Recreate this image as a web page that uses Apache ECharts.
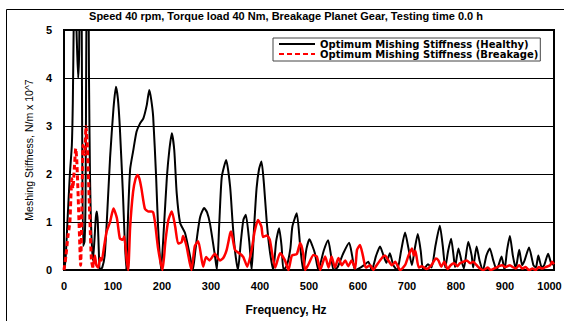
<!DOCTYPE html>
<html><head><meta charset="utf-8">
<script src="https://cdn.jsdelivr.net/npm/echarts/dist/echarts.min.js"></script>
<style>html,body{margin:0;padding:0;background:#fff}#c{width:564px;height:321px}</style>
</head><body><div id="c"></div>
<script>
const chartTitle = 'Speed 40 rpm, Torque load 40 Nm, Breakage Planet Gear, Testing time 0.0 h';
const xName = 'Frequency, Hz';
const yName = 'Meshing Stiffness, N/m x 10^7';
const healthyName = 'Optimum Mishing Stiffness (Healthy)';
const breakName = 'Optimum Mishing Stiffness (Breakage)';
const xTicks = [0,100,200,300,400,500,600,700,800,900,1000];
const yTicks = [0,1,2,3,4,5];

const healthyFreq = [0,3,8,12,16,18,20,22,25,27,29,31,33,35,37,39,42,44,47,49,51,53,55,57,59,62,65,67,69,71,73,78,83,87,94,101,106,110,114,120,127,131,135,141,148,155,162,169,174,178,182,188,192,198,204,210,215,220,225,230,237,247,257,263,268,273,278,286,292,298,308,312,317,322,331,339,344,349,355,361,366,371,378,383,388,393,398,403,408,414,420,427,433,439,444,448,455,462,466,475,482,488,495,501,507,512,519,530,539,545,550,558,570,582,588,594,605,612,621,628,637,645,652,658,665,672,680,688,696,703,710,716,722,728,733,743,750,758,767,773,778,784,790,795,798,805,811,816,825,832,835,842,848,855,862,869,876,883,893,899,904,910,916,922,929,935,940,949,958,963,968,975,980,988,994,1000];
const healthyVal = [0,0.2,1.2,2.0,2.6,3.5,5.3,7,5.2,4.5,4.0,4.6,7,7,3.0,0.5,0.6,1.5,7,7,4.0,2.0,1.0,0.5,0.2,0.6,1.1,1.22,1.0,0.4,0,0.05,0.3,0.94,2.33,3.37,3.82,3.57,2.96,1.65,0,1.21,2.1,2.47,2.88,3.05,3.16,3.44,3.75,3.55,3.19,1.94,0.9,0,0.9,1.94,2.5,2.85,2.5,1.6,0.98,0.77,0.3,0,0.4,0.8,1.11,1.29,1.2,0.96,0.3,0,1.0,1.94,2.29,1.74,1.0,0.4,0,0.6,1.04,1.15,0.6,0,0.9,1.7,2.1,2.26,1.8,0.97,0.4,0,0.6,0.87,0.5,0,0.1,0.45,0.9,1.18,0.5,0,0.45,0.64,0.5,0.35,0,0.4,0.62,0.3,0,0.05,0.35,0.57,0.3,0,0.05,0.1,0.17,0,0.3,0.49,0.3,0.15,0.35,0.1,0,0.4,0.78,0.45,0.1,0.45,0.75,0.4,0,0.12,0.05,0.5,0.92,0.5,0.05,0.4,0.65,0.3,0.06,0.45,0.2,0.03,0.59,0.3,0.05,0.49,0.2,0,0.3,0.45,0.2,0,0.28,0,0.4,0.71,0.3,0.03,0.42,0.1,0.2,0.47,0.1,0.05,0.3,0.05,0.1,0.34,0.15,0.1];

const breakFreq = [0,4,8,12,14,16,18,21,24,26,28,30,33,34,36,39,42,45,48,50,53,56,59,
63,66,70,74,77,82,87,94,101,108,114,120,123,128,131,135,141,146,150,154,158,165,172,178,182,186,192,201,207,213,220,227,233,240,243,250,260,267,274,284,290,297,308,318,325,332,339,341,349,359,366,374,383,389,396,403,406,414,420,431,441,451,458,465,475,482,488,492,499,509,516,523,533,540,546,553,560,567,574,580,587,594,598,604,610,616,625,631,638,648,655,662,669,676,686,696,703,710,714,717,724,730,740,750,759,764,770,776,783,789,796,803,808,815,822,829,835,842,849,856,865,871,882,888,894,901,910,916,922,929,935,942,949,956,963,969,976,983,992,996,1000];
const breakVal = [0,0.3,0.7,1.0,1.5,1.9,1.7,2.1,2.53,2.3,1.8,1.2,0.3,0.1,1.0,2.6,2.4,2.99,2.5,1.9,1.0,0.2,0.05,
0.3,0.1,0.05,0.25,0.2,0.5,0.8,1.0,1.28,1.08,0.66,0.63,0.7,0.2,0,0.9,1.63,1.9,1.98,1.9,1.7,1.28,1.22,1.22,1.2,0.97,0.45,0,0.6,1.04,1.22,0.9,0.55,0.58,0.71,0.5,0,0.5,0.6,0.07,0.27,0.2,0.34,0.2,0.25,0.42,0.76,0.8,0.42,0.34,0.27,0.07,0.42,0.8,1.04,0.9,0.69,0.72,0.63,0.05,0.35,0.2,0,0.3,0.33,0.56,0.35,0,0.12,0.31,0.28,0,0.28,0.05,0.28,0.05,0.25,0.1,0.2,0.08,0.2,0.03,0.42,0.52,0.3,0.05,0.1,0,0.1,0.24,0.3,0.2,0.1,0.17,0,0.1,0.3,0.45,0.3,0.4,0.05,0.08,0.02,0.1,0.24,0.2,0.07,0.17,0.02,0.1,0.14,0.08,0.14,0.17,0.2,0.14,0.17,0.1,0.03,0,0.05,0,0.05,0.08,0.1,0.06,0.1,0.06,0.03,0.1,0.03,0.06,0,0.03,0,0.06,0.03,0.06,0.1,0.17,0.12];
const dashedUntil = 59; // breakage trace drawn dashed up to this frequency

const healthyData = healthyFreq.map((f, i) => [f, healthyVal[i]]);
const breakPairs = breakFreq.map((f, i) => [f, breakVal[i]]);
const breakDashed = breakPairs.filter(p => p[0] <= dashedUntil);
const breakSolid = breakPairs.filter(p => p[0] >= dashedUntil);
const xMax = xTicks[xTicks.length - 1];

const chart = echarts.init(document.getElementById('c'), null, {renderer: 'svg'});
const boldFont = {fontFamily: 'Arial, "Liberation Sans"', fontWeight: 'bold', color: '#000'};
chart.setOption({
  animation: false,
  backgroundColor: '#fff',
  grid: {left: 64, right: 10, top: 30, bottom: 51, outerBoundsMode: 'none', containLabel: false,
         show: true, borderColor: '#000', borderWidth: 2, backgroundColor: 'transparent'},
  xAxis: {
    type: 'value', min: xTicks[0], max: xMax, interval: 100,
    axisLine: {show: true, lineStyle: {color: '#000', width: 2}},
    axisTick: {show: false},
    splitLine: {show: false},
    axisLabel: Object.assign({fontSize: 11, margin: 10,
      formatter: v => v === xMax ? '{last|' + v + '}' : String(v),
      rich: {last: Object.assign({fontSize: 11, padding: [0, 9, 0, 0]}, boldFont)}}, boldFont)
  },
  yAxis: {
    type: 'value', min: yTicks[0], max: yTicks[yTicks.length - 1], interval: 1,
    name: yName, nameLocation: 'middle', nameGap: 29, nameRotate: 90,
    nameTextStyle: {fontFamily: 'Arial, "Liberation Sans"', fontSize: 10.5, color: '#000'},
    axisLine: {show: true, lineStyle: {color: '#000', width: 2}},
    axisTick: {show: false},
    splitLine: {show: true, lineStyle: {color: '#000', width: 1}},
    axisLabel: Object.assign({fontSize: 11, margin: 12, formatter: v => String(v)}, boldFont)
  },
  legend: {
    orient: 'vertical', left: 273, top: 38,
    data: [healthyName, breakName],
    itemWidth: 36, itemHeight: 10, itemGap: 0, padding: [1, 2, 2, 5],
    backgroundColor: '#fff', borderColor: '#444', borderWidth: 1,
    itemStyle: {opacity: 0, borderWidth: 0, color: 'rgba(0,0,0,0)'},
    textStyle: {fontFamily: '"DejaVu Sans"', fontWeight: 'bold', fontSize: 10, color: '#000'}
  },
  graphic: [
    {type: 'rect', z: -10, silent: true, shape: {x: 6.5, y: 9.5, width: 620, height: 400}, style: {fill: 'none', stroke: '#000', lineWidth: 1}},
    {type: 'text', x: 286, y: 16, style: {text: chartTitle, align: 'center', verticalAlign: 'middle', font: 'bold 11px Arial, "Liberation Sans"', fill: '#000'}},
    {type: 'text', x: 286, y: 310, style: {text: xName, align: 'center', verticalAlign: 'middle', font: 'bold 12px Arial, "Liberation Sans"', fill: '#000'}}
  ],
  series: [
    {name: healthyName, type: 'line', data: healthyData, symbol: 'none', smooth: 0.2, clip: true,
     lineStyle: {color: '#000', width: 2}, itemStyle: {color: '#000'}, z: 2},
    {name: breakName, type: 'line', data: breakDashed, symbol: 'none', smooth: 0.2, clip: true,
     lineStyle: {color: '#ff0000', width: 3, type: [5, 3]}, itemStyle: {color: '#ff0000'}, z: 3},
    {name: breakName, type: 'line', data: breakSolid, symbol: 'none', smooth: 0.2, clip: true,
     lineStyle: {color: '#ff0000', width: 2.5}, itemStyle: {color: '#ff0000'}, z: 3}
  ]
});
</script></body></html>
